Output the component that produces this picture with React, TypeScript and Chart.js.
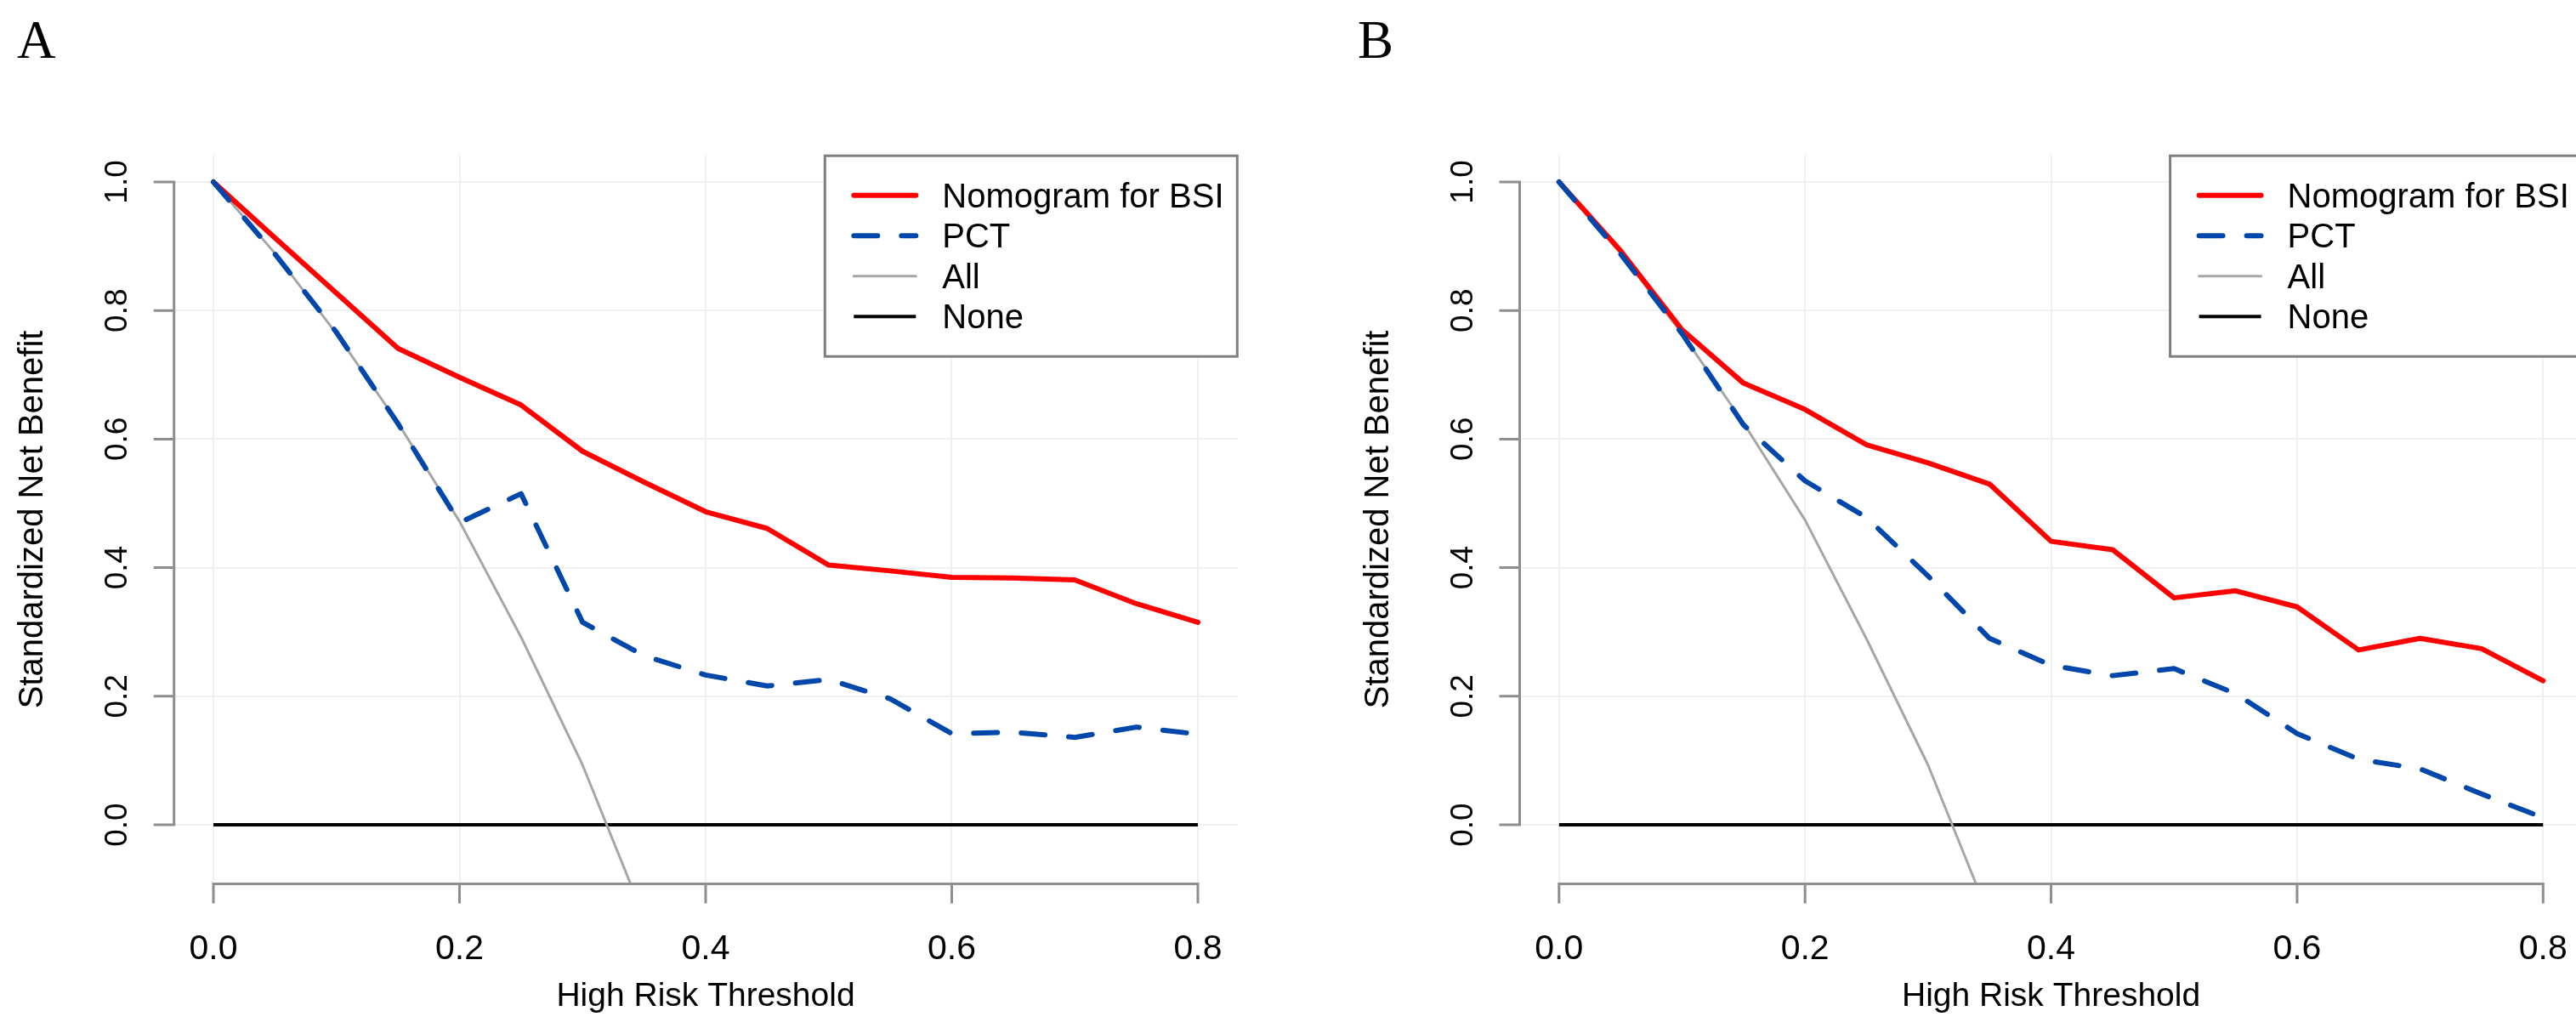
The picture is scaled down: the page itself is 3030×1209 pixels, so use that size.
import React, { useEffect, useRef } from 'react';
import { Chart, registerables } from 'chart.js';

Chart.register(...registerables);

// ---------------- data ----------------
const THRESHOLDS = [0, 0.05, 0.1, 0.15, 0.2, 0.25, 0.3, 0.35, 0.4, 0.45, 0.5, 0.55, 0.6, 0.65, 0.7, 0.75, 0.8];
const ALL_THRESHOLDS = [0, 0.05, 0.1, 0.15, 0.2, 0.25, 0.3, 0.35];
const NONE_THRESHOLDS = [0, 0.8];
const NONE_VALUES = [0, 0];

const A_NOMOGRAM = [1.0, 0.913, 0.827, 0.741, 0.696, 0.653, 0.581, 0.533, 0.487, 0.461, 0.404, 0.395, 0.385, 0.384, 0.381, 0.344, 0.315];
const A_PCT = [1.0, 0.888, 0.766, 0.624, 0.47, 0.515, 0.315, 0.263, 0.233, 0.216, 0.226, 0.196, 0.142, 0.144, 0.136, 0.152, 0.141];
const A_ALL = [1.0, 0.889, 0.764, 0.625, 0.472, 0.292, 0.093, -0.144];

const B_NOMOGRAM = [1.0, 0.893, 0.77, 0.687, 0.646, 0.591, 0.563, 0.53, 0.441, 0.428, 0.353, 0.364, 0.339, 0.272, 0.29, 0.274, 0.224];
const B_PCT = [1.0, 0.888, 0.764, 0.622, 0.535, 0.478, 0.387, 0.29, 0.248, 0.232, 0.243, 0.204, 0.142, 0.102, 0.087, 0.048, 0.011];
const B_ALL = [1.0, 0.889, 0.764, 0.625, 0.474, 0.289, 0.093, -0.144];

const X_TICKS = [0, 0.2, 0.4, 0.6, 0.8];
const X_TICK_LABELS = ['0.0', '0.2', '0.4', '0.6', '0.8'];
const Y_TICKS = [0, 0.2, 0.4, 0.6, 0.8, 1.0];
const Y_TICK_LABELS = ['0.0', '0.2', '0.4', '0.6', '0.8', '1.0'];
const X_RANGE = [-0.032, 0.832];
const Y_RANGE = [-0.092, 1.042];

const SERIES_NAMES = ['Nomogram for BSI', 'PCT', 'All', 'None'];
const X_TITLE = 'High Risk Threshold';
const Y_TITLE = 'Standardized Net Benefit';
const PANEL_LABELS = ['A', 'B'];

// ---------------- styles ----------------
const RED = '#FF0000';
const BLUE = '#0047AB';
const GRAY = '#A6A6A6';
const BLACK = '#000000';
const AXIS_COLOR = '#8E8E8E';
const GRID_COLOR = '#F0F0F0';
const LEGEND_BORDER = '#7F7F7F';
const SANS = '"Liberation Sans", Arial, Helvetica, sans-serif';
const SERIF = '"Liberation Serif", "Times New Roman", serif';

const SERIES_STYLES = [
  { color: RED, width: 6, dash: [] as number[], cap: 'round' },
  { color: BLUE, width: 6, dash: [28, 28], cap: 'round' },
  { color: GRAY, width: 3, dash: [] as number[], cap: 'round' },
  { color: BLACK, width: 4, dash: [] as number[], cap: 'butt' },
];

const toPoints = (xs: number[], ys: number[]) => xs.map((x, i) => ({ x, y: ys[i] }));

const rStylePlugin = {
  id: 'rStyle',
  afterDraw(chart: any, _args: any, opts: any) {
    const { ctx, chartArea: ca } = chart;
    const xs = chart.scales.x;
    const ys = chart.scales.y;
    ctx.save();

    // axes (R style: line spans first to last tick, ticks outward)
    ctx.strokeStyle = AXIS_COLOR;
    ctx.lineWidth = 3;
    ctx.lineCap = 'butt';
    ctx.beginPath();
    const xa = xs.getPixelForValue(X_TICKS[0]);
    const xb = xs.getPixelForValue(X_TICKS[X_TICKS.length - 1]);
    ctx.moveTo(xa - 1.5, ca.bottom);
    ctx.lineTo(xb + 1.5, ca.bottom);
    X_TICKS.forEach((v) => {
      const px = xs.getPixelForValue(v);
      ctx.moveTo(px, ca.bottom);
      ctx.lineTo(px, ca.bottom + 23);
    });
    const ya = ys.getPixelForValue(Y_TICKS[0]);
    const yb = ys.getPixelForValue(Y_TICKS[Y_TICKS.length - 1]);
    ctx.moveTo(ca.left, ya + 1.5);
    ctx.lineTo(ca.left, yb - 1.5);
    Y_TICKS.forEach((v) => {
      const py = ys.getPixelForValue(v);
      ctx.moveTo(ca.left, py);
      ctx.lineTo(ca.left - 24, py);
    });
    ctx.stroke();

    // tick labels
    ctx.fillStyle = '#000';
    ctx.font = `41px ${SANS}`;
    ctx.textAlign = 'center';
    ctx.textBaseline = 'alphabetic';
    X_TICKS.forEach((v, i) => {
      ctx.fillText(X_TICK_LABELS[i], xs.getPixelForValue(v), ca.bottom + 88);
    });
    ctx.font = `37px ${SANS}`;
    Y_TICKS.forEach((v, i) => {
      ctx.save();
      ctx.translate(ca.left - 56, ys.getPixelForValue(v));
      ctx.rotate(-Math.PI / 2);
      ctx.fillText(Y_TICK_LABELS[i], 0, 0);
      ctx.restore();
    });

    // axis titles
    ctx.font = `39px ${SANS}`;
    ctx.fillText(X_TITLE, (ca.left + ca.right) / 2, ca.bottom + 143);
    ctx.save();
    ctx.font = `40px ${SANS}`;
    ctx.translate(ca.left - 155, (ca.top + ca.bottom) / 2);
    ctx.rotate(-Math.PI / 2);
    ctx.fillText(Y_TITLE, 0, 0);
    ctx.restore();

    // legend (top right of plot region)
    const lw = 485;
    const lh = 236;
    const lx = ca.right - lw;
    const ly = ca.top + 1;
    ctx.fillStyle = '#FFFFFF';
    ctx.fillRect(lx, ly, lw, lh);
    ctx.strokeStyle = LEGEND_BORDER;
    ctx.lineWidth = 3;
    ctx.setLineDash([]);
    ctx.strokeRect(lx, ly, lw, lh);
    SERIES_NAMES.forEach((name, i) => {
      const st = SERIES_STYLES[i];
      const ry = ly + 46.5 + i * 47.5;
      ctx.beginPath();
      ctx.strokeStyle = st.color;
      ctx.lineWidth = st.width;
      ctx.lineCap = st.cap;
      ctx.setLineDash(st.dash);
      ctx.moveTo(lx + 34, ry);
      ctx.lineTo(lx + 107, ry);
      ctx.stroke();
      ctx.setLineDash([]);
      ctx.fillStyle = '#000';
      ctx.font = `40px ${SANS}`;
      ctx.textAlign = 'left';
      ctx.fillText(name, lx + 138, ry + 14);
    });

    // panel letter
    ctx.fillStyle = '#000';
    ctx.font = `63px ${SERIF}`;
    ctx.textAlign = 'left';
    ctx.fillText(opts.letter, opts.letterX, 68);

    ctx.restore();
  },
};

function makeConfig(nomogram: number[], pct: number[], all: number[], pad: any, letter: string, letterX: number) {
  const line = (label: string, pts: any[], st: any) => ({
    label,
    data: pts,
    borderColor: st.color,
    backgroundColor: st.color,
    borderWidth: st.width,
    borderDash: st.dash,
    borderCapStyle: st.cap,
    borderJoinStyle: 'round',
    pointRadius: 0,
    tension: 0,
    fill: false,
    clip: 0,
  });
  return {
    type: 'line',
    data: {
      datasets: [
        line(SERIES_NAMES[1], toPoints(THRESHOLDS, pct), SERIES_STYLES[1]),
        line(SERIES_NAMES[0], toPoints(THRESHOLDS, nomogram), SERIES_STYLES[0]),
        line(SERIES_NAMES[2], toPoints(ALL_THRESHOLDS, all), SERIES_STYLES[2]),
        line(SERIES_NAMES[3], toPoints(NONE_THRESHOLDS, NONE_VALUES), SERIES_STYLES[3]),
      ],
    },
    options: {
      animation: false,
      responsive: false,
      events: [],
      layout: { padding: pad },
      scales: {
        x: {
          type: 'linear',
          min: X_RANGE[0],
          max: X_RANGE[1],
          afterBuildTicks: (s: any) => {
            s.ticks = X_TICKS.map((v) => ({ value: v }));
          },
          ticks: { display: false },
          grid: { color: GRID_COLOR, lineWidth: 2, drawTicks: false },
          border: { display: false },
          title: { display: false },
        },
        y: {
          type: 'linear',
          min: Y_RANGE[0],
          max: Y_RANGE[1],
          afterBuildTicks: (s: any) => {
            s.ticks = Y_TICKS.map((v) => ({ value: v }));
          },
          ticks: { display: false },
          grid: { color: GRID_COLOR, lineWidth: 2, drawTicks: false },
          border: { display: false },
          title: { display: false },
        },
      },
      plugins: {
        legend: { display: false },
        tooltip: { enabled: false },
        rStyle: { letter, letterX },
      },
    },
    plugins: [rStylePlugin],
  };
}

export default function App() {
  const aRef = useRef<HTMLCanvasElement>(null);
  const bRef = useRef<HTMLCanvasElement>(null);

  useEffect(() => {
    const ca = new Chart(
      aRef.current as HTMLCanvasElement,
      makeConfig(A_NOMOGRAM, A_PCT, A_ALL, { left: 204.7, right: 59.7, top: 182.2, bottom: 169.4 }, PANEL_LABELS[0], 20) as any
    );
    const cb = new Chart(
      bRef.current as HTMLCanvasElement,
      makeConfig(B_NOMOGRAM, B_PCT, B_ALL, { left: 272.5, right: 37.4, top: 182.2, bottom: 169.4 }, PANEL_LABELS[1], 82) as any
    );
    return () => {
      ca.destroy();
      cb.destroy();
    };
  }, []);

  return (
    <div
      style={{
        position: 'fixed',
        left: 0,
        top: 0,
        width: 3030,
        height: 1209,
        overflow: 'hidden',
        background: '#FFFFFF',
      }}
    >
      <canvas ref={aRef} width={1515} height={1209} style={{ position: 'absolute', left: 0, top: 0 }} />
      <canvas ref={bRef} width={1560} height={1209} style={{ position: 'absolute', left: 1515, top: 0 }} />
    </div>
  );
}
